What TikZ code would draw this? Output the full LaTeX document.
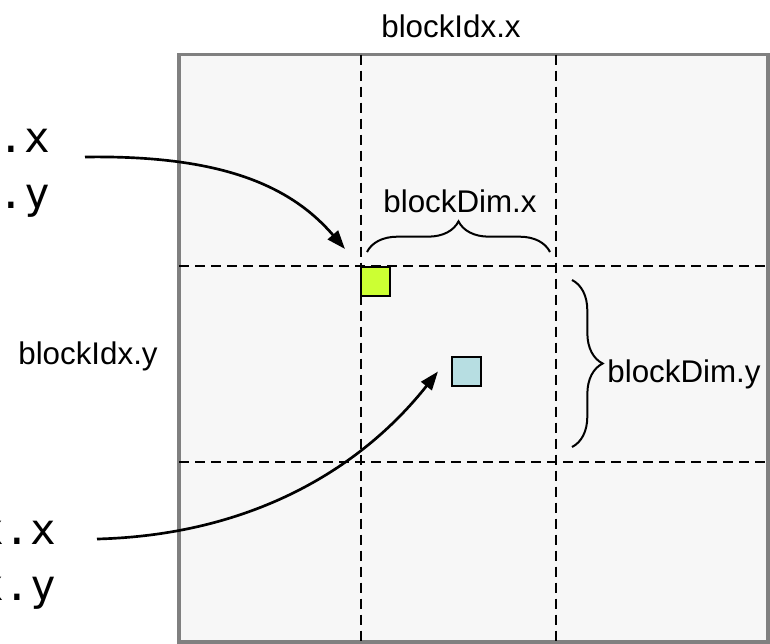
\documentclass[tikz,border=0pt]{standalone}
\usepackage{fontspec}
\setmainfont{Liberation Sans}
\newfontfamily\codefont{DejaVu Sans Mono}
\usepackage{tikz}
\usetikzlibrary{arrows.meta,decorations.pathreplacing}
\definecolor{cellgreen}{RGB}{204,255,51}
\definecolor{cellblue}{RGB}{183,222,226}
\definecolor{gridfill}{RGB}{247,247,247}
\definecolor{gridframe}{RGB}{128,128,128}

\begin{document}
\begin{tikzpicture}[x=0.75pt,y=-0.75pt,>={Triangle[length=14pt,width=10pt]},
                    semithick]
  \tikzstyle{label}=[font=\fontsize{23.5}{28}\selectfont,inner sep=0pt]
  \tikzstyle{code}=[font=\codefont\fontsize{32}{38}\selectfont,inner sep=0pt,anchor=base west]
  \tikzstyle{cell}=[rectangle,draw=black,line width=1.3pt,minimum size=22pt,inner sep=0pt]
  \tikzstyle{gridline}=[dash pattern=on 7.5pt off 4.5pt,line width=1.3pt]
  \tikzstyle{pointer}=[->,line width=2pt]
  \tikzstyle{curly}=[decorate,decoration={brace,amplitude=23pt},line width=1.5pt]

  \clip (0,0) rectangle (770,643);

  % grid of blocks
  \draw[draw=gridframe,fill=gridfill,line width=2.6pt] (179,54.5) rectangle (768,642);
  \draw[gridline] (361,54.5) -- (361,642);
  \draw[gridline] (556,54.5) -- (556,642);
  \draw[gridline] (179,266) -- (768,266);
  \draw[gridline] (179,462) -- (768,462);

  \node[cell,fill=cellgreen] (cellA) at (375.5,281.5) {};
  \node[cell,fill=cellblue]  (cellB) at (466.5,371.5) {};

  \node[label,anchor=base]      (idxx) at (451,37)  {blockIdx.x};
  \node[label,anchor=base]      (idxy) at (88,364)  {blockIdx.y};
  \node[label,anchor=base]      (dimx) at (460,212) {blockDim.x};
  \node[label,anchor=base west] (dimy) at (607,382) {blockDim.y};

  \draw[curly] (367,252) -- (550,252);
  \draw[curly] (572,280) -- (572,447);

  % indices on the left
  \node[code] (tx) at (-2,152)    {.x};
  \node[code] (ty) at (-2,208)    {.y};
  \node[code] (bx) at (-21.5,544) {x.x};
  \node[code] (by) at (-21.5,600) {x.y};

  \coordinate (fromA) at (85,157);
  \coordinate (fromB) at (97,539);

  \draw[pointer] (fromA) .. controls (220,155) and (290,185) .. ([shift={(-15,-17)}]cellA.north west);
  \draw[pointer] (fromB) .. controls (250,535) and (360,470) .. ([shift={(-13,0)}]cellB.west);
\end{tikzpicture}
\end{document}
